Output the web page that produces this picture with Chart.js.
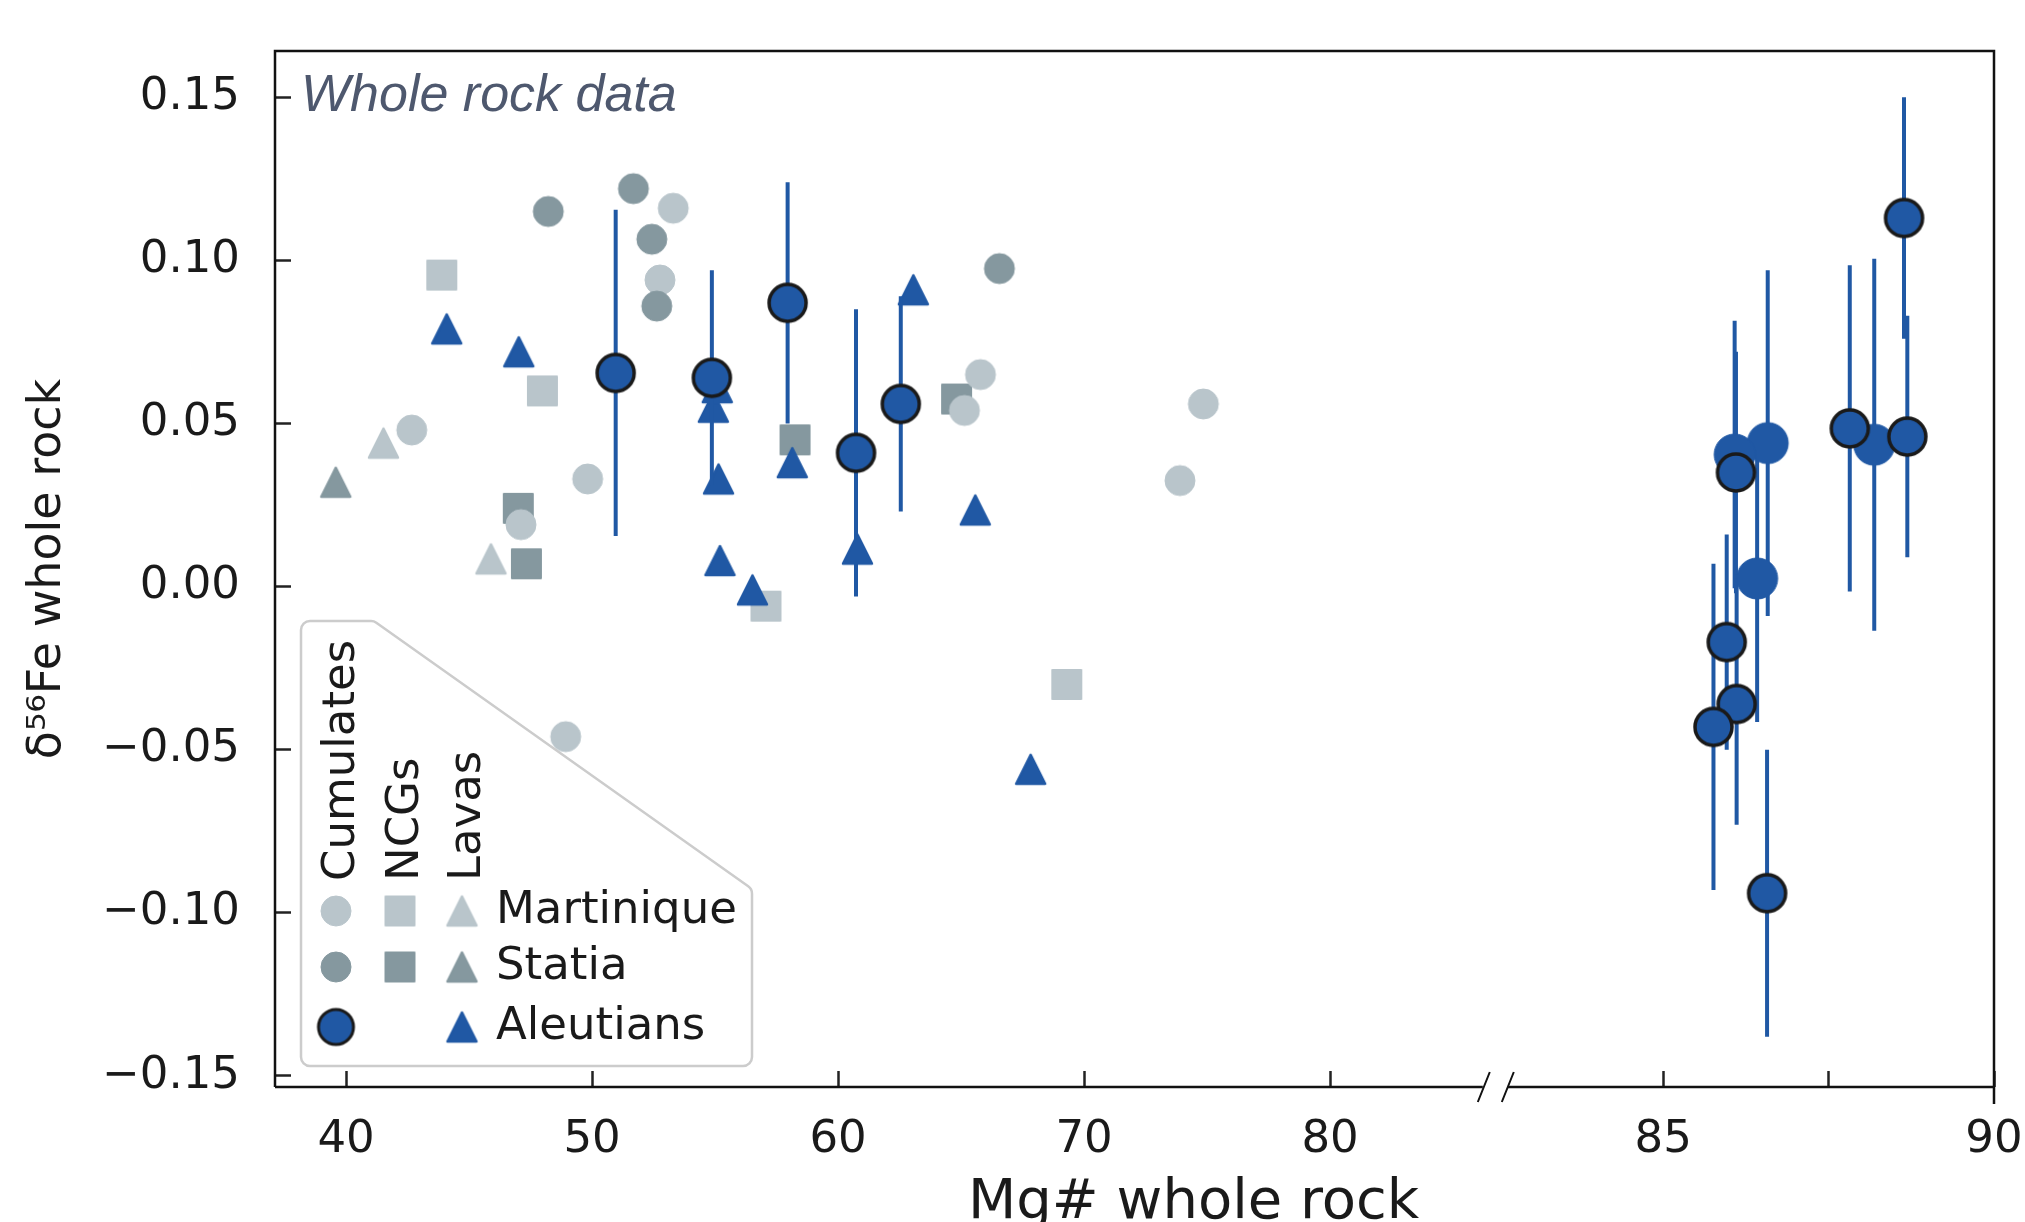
<!DOCTYPE html>
<html>
<head>
<meta charset="utf-8">
<script src="https://cdn.jsdelivr.net/npm/chart.js@4.4.1/dist/chart.umd.min.js"></script>
<style>
  html, body { margin: 0; padding: 0; background: #fff; }
</style>
</head>
<body>
<canvas id="fig" width="2025" height="1222"></canvas>
<script>
// Tick positions and labels
const yTickValues = [-0.15, -0.10, -0.05, 0, 0.05, 0.10, 0.15];
const xTicksLeft = [40, 50, 60, 70, 80];
const xTicksRight = [85, 87.5, 90];
const xLabelsRight = ['85', '', '90'];

// [Mg#, d56Fe]
const martiniqueCumulates = [[42.67, 0.048], [47.11, 0.019], [48.93, -0.046], [49.82, 0.033], [52.76, 0.094],
    [53.30, 0.116], [65.14, 0.054], [65.79, 0.065], [73.90, 0.0325], [74.85, 0.056]];
const statiaCumulates = [[48.22, 0.115], [51.68, 0.122], [52.43, 0.1065], [52.63, 0.086], [66.56, 0.0975]];
const martiniqueNCGs = [[43.89, 0.0955], [47.98, 0.060], [57.07, -0.006], [69.30, -0.030]];
const statiaNCGs = [[47.00, 0.024], [47.33, 0.007], [58.25, 0.045], [64.82, 0.0575]];
const martiniqueLavas = [[41.52, 0.044], [45.89, 0.0085]];
const statiaLavas = [[39.58, 0.032]];
const aleutianLavas = [[44.09, 0.079], [47.02, 0.072], [54.93, 0.055], [55.09, 0.061], [55.14, 0.033],
    [55.20, 0.008], [56.52, -0.001], [58.14, 0.038], [60.79, 0.0115], [63.06, 0.091], [65.58, 0.0235],
    [67.83, -0.056]];

// [Mg#, d56Fe, 2SD]
const aleutianCumulatesLow = [[50.96, 0.0655, 0.050], [54.87, 0.064, 0.033], [57.95, 0.087, 0.037],
    [60.73, 0.041, 0.044], [62.55, 0.056, 0.033]];
const aleutianCumulatesHigh = [[88.64, 0.113, 0.037], [88.69, 0.046, 0.037], [87.82, 0.0485, 0.050],
    [86.10, 0.035, 0.037], [85.96, -0.017, 0.033], [86.11, -0.036, 0.037], [85.76, -0.043, 0.050],
    [86.57, -0.094, 0.044]];
const aleutianCumulatesLit = [[88.19, 0.0435, 0.057], [86.58, 0.044, 0.053], [86.08, 0.0405, 0.041],
    [86.42, 0.0025, 0.044]];

const LIGHT = '#b9c5cb';
const DARK = '#85989f';
const BLUE = '#2058a4';
const INK = '#1a1a1a';

Chart.defaults.font.family = "'DejaVu Sans', sans-serif";
Chart.defaults.color = INK;

function makeMarker(shape, size, fill, stroke, lw) {
    const pad = Math.ceil(lw / 2) + 2;
    const dim = Math.ceil(size + 2 * pad);
    const c = document.createElement('canvas');
    c.width = dim;
    c.height = dim;
    const ctx = c.getContext('2d');
    const m = dim / 2, h = size / 2;
    ctx.beginPath();
    if (shape === 'circle') {
        ctx.arc(m, m, h, 0, Math.PI * 2);
    } else if (shape === 'square') {
        ctx.rect(m - h, m - h, size, size);
    } else {
        ctx.moveTo(m, m - h);
        ctx.lineTo(m + h, m + h);
        ctx.lineTo(m - h, m + h);
        ctx.closePath();
    }
    ctx.fillStyle = fill;
    ctx.fill();
    ctx.lineJoin = 'round';
    ctx.strokeStyle = stroke;
    ctx.lineWidth = lw;
    ctx.stroke();
    return c;
}

const markers = {
    lightCircle: makeMarker('circle', 30, LIGHT, LIGHT, 1),
    darkCircle: makeMarker('circle', 30, DARK, DARK, 1),
    lightSquare: makeMarker('square', 29, LIGHT, LIGHT, 2),
    darkSquare: makeMarker('square', 29, DARK, DARK, 2),
    lightTri: makeMarker('triangle', 29, LIGHT, LIGHT, 2.5),
    darkTri: makeMarker('triangle', 29, DARK, DARK, 2.5),
    blueTri: makeMarker('triangle', 29, BLUE, BLUE, 2.5),
    blueRing: makeMarker('circle', 37, BLUE, INK, 3.5),
    blueDot: makeMarker('circle', 41, BLUE, BLUE, 1),
    legendRing: makeMarker('circle', 35, BLUE, INK, 3)
};

function toPoints(rows) {
    return rows.map(r => ({x: r[0], y: r[1]}));
}

function errorSegments(rows) {
    const out = [];
    rows.forEach(r => {
        out.push({x: r[0], y: r[1] - r[2]}, {x: r[0], y: r[1] + r[2]}, {x: r[0], y: null});
    });
    return out;
}

function markerSet(label, rows, style, order, axis) {
    return {
        label: label,
        data: toPoints(rows),
        xAxisID: axis || 'x',
        pointStyle: style,
        pointRadius: 15,
        order: order
    };
}

function errorSet(label, rows, axis) {
    return {
        label: label,
        data: errorSegments(rows),
        xAxisID: axis,
        showLine: true,
        spanGaps: false,
        pointRadius: 0,
        borderColor: BLUE,
        borderWidth: 4,
        borderCapStyle: 'butt',
        order: 4
    };
}

function fmtDelta(v) {
    return (v < -1e-9 ? '\u2212' : '') + Math.abs(v).toFixed(2);
}

// ticks point inwards; keep the label overhang from shrinking the plot area
function pinX(s) {
    s.height = 135;
    s.paddingLeft = 0;
    s.paddingRight = 0;
}

function pinY(s) {
    s.width = 275;
    s.paddingTop = 0;
    s.paddingBottom = 0;
}

const tickGrid = {drawOnChartArea: false, tickLength: -16, tickWidth: 2.5, tickColor: '#222'};
const tickFont = {size: 45};

// frame with the broken bottom spine
const framePlugin = {
    id: 'frame',
    afterDatasetsDraw(chart) {
        const ctx = chart.ctx;
        const a = chart.chartArea;
        const br = chart.scales.x.right;
        ctx.save();
        ctx.strokeStyle = '#111';
        ctx.lineWidth = 2.5;
        ctx.beginPath();
        ctx.moveTo(a.left, a.bottom);
        ctx.lineTo(a.left, a.top);
        ctx.lineTo(a.right, a.top);
        ctx.lineTo(a.right, a.bottom + 17);
        ctx.moveTo(a.left, a.bottom);
        ctx.lineTo(br - 13, a.bottom);
        ctx.moveTo(br + 12, a.bottom);
        ctx.lineTo(a.right, a.bottom);
        ctx.stroke();
        ctx.lineWidth = 2;
        ctx.beginPath();
        [-18, 6].forEach(dx => {
            ctx.moveTo(br + dx, a.bottom + 15);
            ctx.lineTo(br + dx + 12, a.bottom - 15);
        });
        ctx.stroke();

        ctx.fillStyle = '#4e586e';
        ctx.font = 'italic 52px "Liberation Sans", Arial, sans-serif';
        ctx.textBaseline = 'alphabetic';
        ctx.fillText('Whole rock data', a.left + 26, a.top + 60);

        ctx.fillStyle = INK;
        ctx.font = '56px "DejaVu Sans", sans-serif';
        ctx.fillText('Mg# whole rock', 968, a.bottom + 131);
        ctx.restore();
    }
};

function roundedPoly(ctx, pts, r) {
    const n = pts.length;
    const p0 = pts[n - 1], p1 = pts[0];
    ctx.beginPath();
    ctx.moveTo((p0[0] + p1[0]) / 2, (p0[1] + p1[1]) / 2);
    for (let i = 0; i < n; i++) {
        const p = pts[i], q = pts[(i + 1) % n];
        ctx.arcTo(p[0], p[1], q[0], q[1], r);
    }
    ctx.closePath();
}

// grouped legend: columns = rock type, rows = locality
const legendPlugin = {
    id: 'groupLegend',
    beforeDatasetsDraw(chart) {
        const ctx = chart.ctx;
        const a = chart.chartArea;
        const L = a.left + 26, R = a.left + 477, T = a.bottom - 466, B = a.bottom - 21;
        ctx.save();
        roundedPoly(ctx, [[L, T], [L + 73, T], [R, T + 268], [R, B], [L, B]], 9);
        ctx.fillStyle = 'rgba(255,255,255,0.9)';
        ctx.fill();
        ctx.strokeStyle = '#cccccc';
        ctx.lineWidth = 2.5;
        ctx.stroke();

        const cols = [a.left + 61, a.left + 125, a.left + 187];
        const rows = [a.bottom - 176, a.bottom - 120, a.bottom - 60];
        const grid = [
            [markers.lightCircle, markers.lightSquare, markers.lightTri],
            [markers.darkCircle, markers.darkSquare, markers.darkTri],
            [markers.legendRing, null, markers.blueTri]
        ];
        grid.forEach((row, i) => {
            row.forEach((m, j) => {
                if (m) ctx.drawImage(m, cols[j] - m.width / 2, rows[i] - m.height / 2);
            });
        });

        ctx.fillStyle = INK;
        ctx.font = '45px "DejaVu Sans", sans-serif';
        ctx.textBaseline = 'middle';
        ['Martinique', 'Statia', 'Aleutians'].forEach((t, i) => {
            ctx.fillText(t, a.left + 221, rows[i]);
        });
        ctx.textBaseline = 'alphabetic';
        ['Cumulates', 'NCGs', 'Lavas'].forEach((t, j) => {
            ctx.save();
            ctx.translate(cols[j] + 18, a.bottom - 206);
            ctx.rotate(-Math.PI / 2);
            ctx.fillText(t, 0, 0);
            ctx.restore();
        });
        ctx.restore();
    }
};

const ctx = document.getElementById('fig').getContext('2d');
new Chart(ctx, {
    type: 'scatter',
    data: {
        datasets: [
            markerSet('Martinique NCGs', martiniqueNCGs, markers.lightSquare, 9),
            markerSet('Statia NCGs', statiaNCGs, markers.darkSquare, 9),
            markerSet('Martinique cumulates', martiniqueCumulates, markers.lightCircle, 8),
            markerSet('Statia cumulates', statiaCumulates, markers.darkCircle, 7),
            markerSet('Martinique lavas', martiniqueLavas, markers.lightTri, 6),
            markerSet('Statia lavas', statiaLavas, markers.darkTri, 6),
            markerSet('Aleutian lavas', aleutianLavas, markers.blueTri, 5),
            errorSet('Aleutian cumulates 2SD', aleutianCumulatesLow, 'x'),
            errorSet('Aleutian cumulates 2SD (high Mg#)', aleutianCumulatesHigh.concat(aleutianCumulatesLit), 'x2'),
            markerSet('Aleutian cumulates (lit.)', aleutianCumulatesLit, markers.blueDot, 3, 'x2'),
            markerSet('Aleutian cumulates', aleutianCumulatesLow, markers.blueRing, 2, 'x'),
            markerSet('Aleutian cumulates (high Mg#)', aleutianCumulatesHigh, markers.blueRing, 2, 'x2')
        ]
    },
    options: {
        responsive: false,
        animation: false,
        events: [],
        layout: {
            padding: {top: 51, right: 31, bottom: 0, left: 0}
        },
        plugins: {
            legend: {display: false},
            tooltip: {enabled: false}
        },
        scales: {
            x: {
                type: 'linear',
                position: 'bottom',
                stack: 'mg',
                stackWeight: 1220.8,
                min: 37.11,
                max: 86.74,
                afterBuildTicks: s => { s.ticks = xTicksLeft.map(v => ({value: v})); },
                afterFit: pinX,
                border: {display: false},
                grid: tickGrid,
                ticks: {
                    padding: 42,
                    maxRotation: 0,
                    autoSkip: false,
                    font: tickFont,
                    color: INK,
                    callback: v => String(v)
                }
            },
            x2: {
                type: 'linear',
                position: 'bottom',
                stack: 'mg',
                stackWeight: 498.2,
                min: 82.47,
                max: 90,
                afterBuildTicks: s => { s.ticks = xTicksRight.map(v => ({value: v})); },
                afterFit: pinX,
                border: {display: false},
                grid: tickGrid,
                ticks: {
                    padding: 42,
                    maxRotation: 0,
                    autoSkip: false,
                    font: tickFont,
                    color: INK,
                    callback: (v, i) => xLabelsRight[i]
                }
            },
            y: {
                type: 'linear',
                min: -0.1534,
                max: 0.1642,
                afterBuildTicks: s => { s.ticks = yTickValues.map(v => ({value: v})); },
                afterFit: pinY,
                border: {display: false},
                grid: tickGrid,
                ticks: {
                    padding: 51,
                    font: tickFont,
                    color: INK,
                    callback: v => fmtDelta(v)
                },
                title: {
                    display: true,
                    text: '\u03b4\u2075\u2076Fe whole rock',
                    font: {size: 46},
                    color: INK,
                    padding: {top: 20, bottom: 0}
                }
            }
        }
    },
    plugins: [legendPlugin, framePlugin]
});
</script>
</body>
</html>
